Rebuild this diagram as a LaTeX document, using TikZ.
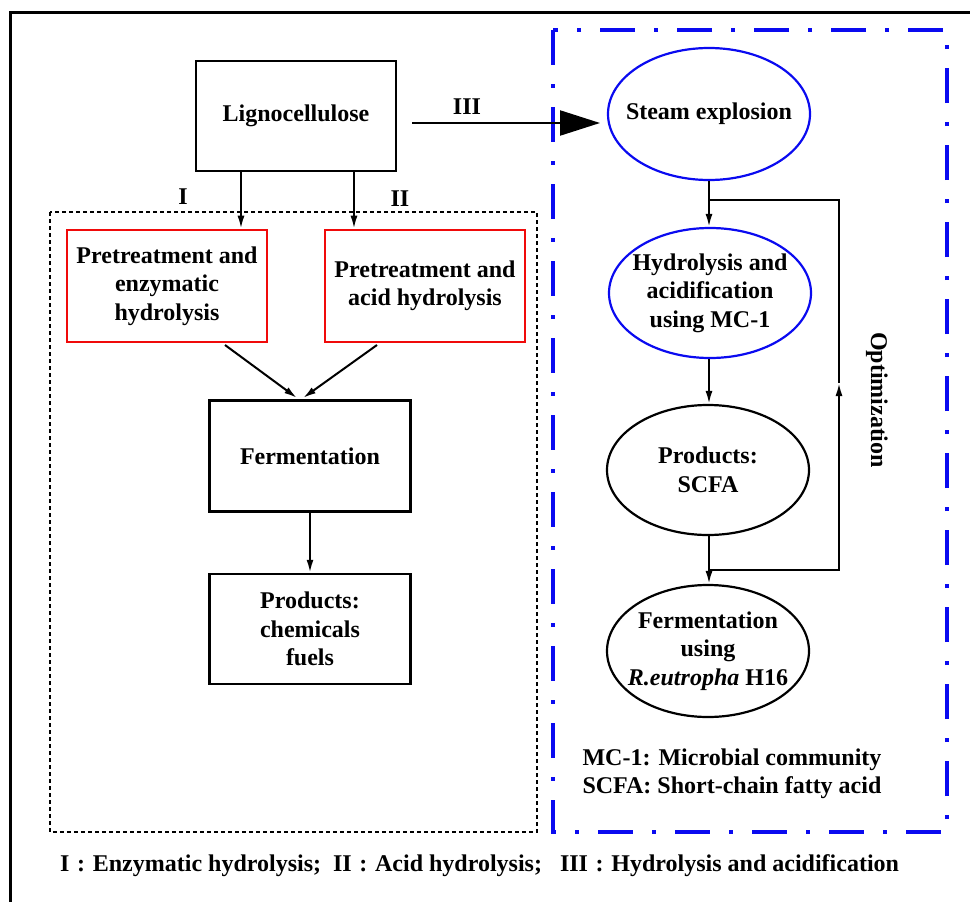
\documentclass[tikz,border=0pt]{standalone}
\usepackage{fontspec}
\setmainfont{Liberation Serif}
\usetikzlibrary{shapes.geometric,arrows.meta}
\definecolor{rred}{RGB}{240,10,10}
\definecolor{bblue}{RGB}{10,10,240}
\begin{document}
\begin{tikzpicture}[x=1pt,y=-1pt,
  font=\fontsize{24}{28.5}\selectfont\bfseries,
  bbox/.style={draw=black, line width=2.5pt, minimum width=200pt, minimum height=110pt, inner sep=0pt, align=center},
  redbox/.style={draw=rred, line width=2.6pt, minimum width=200pt, minimum height=112pt, inner sep=0pt, align=center},
  bell/.style={ellipse, draw=bblue, line width=2.2pt, minimum width=202pt, minimum height=131pt, inner sep=0pt},
  kell/.style={ellipse, draw=black, line width=2.2pt, minimum width=202pt, minimum height=131pt, inner sep=0pt},
  etext/.style={inner sep=0pt, align=center},
  arr/.style={-{Latex[length=13pt,width=7pt]}, line width=2pt},
  conn/.style={line width=2pt},
  lbl/.style={inner sep=0pt}
]
\useasboundingbox (0,0) rectangle (970,902);
% outer frame
\draw[line width=3pt] (10,905) -- (10,12) -- (975,12);
% group frames
\draw[dashed, dash pattern=on 4pt off 3pt, line width=1.2pt] (50,212) rectangle (537,832);
\draw[bblue, line width=4.2pt, dash pattern=on 35pt off 19pt on 4pt off 19pt] (553,30) rectangle (947,832);

% left branch
\node[bbox] (ligno) at (296,116) {Lignocellulose};
\node[redbox] (pre1) at (167,286) {Pretreatment and\\enzymatic\\hydrolysis};
\node[redbox] (pre2) at (425,286) {Pretreatment and\\acid hydrolysis};
\node[bbox, minimum width=201pt, minimum height=111pt] (ferm) at (310,456) {Fermentation};
\node[bbox, minimum width=201pt, minimum height=110pt] (prod) at (310,629) {Products:\\chemicals\\fuels};

\coordinate (c1) at (241,0);
\coordinate (c2) at (354,0);
\draw[arr] (ligno.south -| c1) -- (pre1.north -| c1);
\draw[arr] (ligno.south -| c2) -- (pre2.north -| c2);
\node[lbl] (lI) at (183,197) {I};
\node[lbl] (lII) at (400,199) {II};

\coordinate (s1) at (225,345);
\coordinate (s2) at (377,345);
\coordinate (t1) at (297,398);
\coordinate (t2) at (303,398);
\draw[arr] (s1) -- (t1);
\draw[arr] (s2) -- (t2);
\draw[arr] (ferm.south) -- (prod.north);

% right branch ellipses
\node[bell, minimum height=132pt] (steam) at (709,114) {};
\node[etext] (steamt) at (steam.center) {Steam explosion};
\node[bell, minimum height=130pt] (hyd) at (710,293) {};
\node[etext] (hydt) at (hyd.center) {Hydrolysis and\\acidification\\using MC-1};
\node[kell, minimum height=130pt] (scfa) at (708,470) {};
\node[etext] (scfat) at (scfa.center) {Products:\\SCFA};
\node[kell, minimum height=132pt] (ferm2) at (708,651) {};
\node[etext] (ferm2t) at (ferm2.center) {Fermentation\\using\\\textit{R.eutropha} H16};

% III arrow
\coordinate (iiiA) at (412,123);
\coordinate (iiiB) at (600,123);
\draw[line width=2.2pt, -{Triangle[length=40pt,width=25pt]}] (iiiA) -- (iiiB);
\node[lbl] (lIII) at (467,107) {III};

\coordinate (v) at (709,0);
\draw[arr] (steam.south -| v) -- (hyd.north -| v);
\draw[arr] (hyd.south -| v) -- (scfa.north -| v);
\draw[arr] (scfa.south -| v) -- (ferm2.north -| v);

% optimization loop
\coordinate (fbR) at (839,0);
\coordinate (fbT) at (0,200);
\coordinate (fbB) at (0,570);
\coordinate (fbA) at (839,383);
\draw[arr] (fbB -| v) -- (fbB -| fbR) -- (fbA);
\draw[conn] (fbA) -- (fbT -| fbR) -- (fbT -| v);
\node[lbl, rotate=-90] (opt) at (877,400) {Optimization};

% legends
\node[lbl, align=center] (abbr) at (732,774) {MC-1: Microbial community\\SCFA: Short-chain fatty acid};
\node[lbl, anchor=west] (key) at (60,866) {I\hspace{0.32em}:\hspace{0.32em}Enzymatic hydrolysis;\ \ II\hspace{0.32em}:\hspace{0.32em}Acid hydrolysis;\ \ \ III\hspace{0.32em}:\hspace{0.32em}Hydrolysis and acidification};
\end{tikzpicture}
\end{document}
